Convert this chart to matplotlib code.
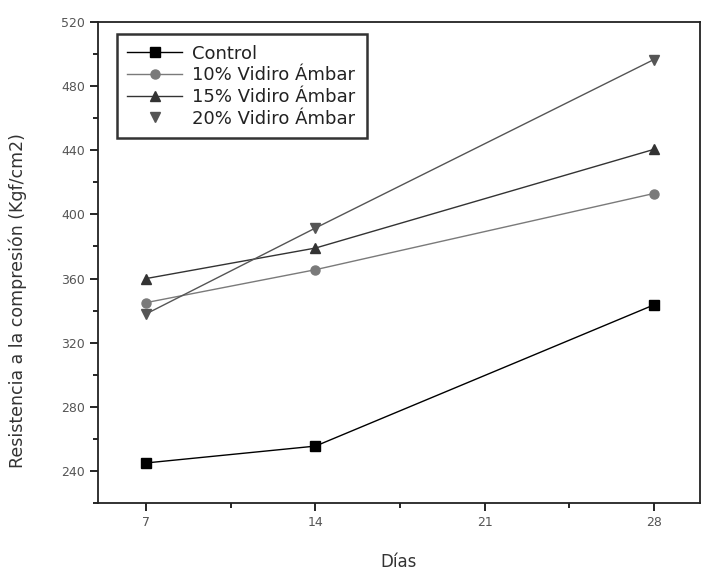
import matplotlib
matplotlib.use('Agg')
import matplotlib.pyplot as plt
from matplotlib.lines import Line2D
from matplotlib.ticker import MultipleLocator

# Data
dias = [7, 14, 28]
control = [245, 255.5, 343.5]
vidrio_10 = [345, 365.5, 413]
vidrio_15 = [360, 379, 440.5]
vidrio_20 = [338, 391.5, 496.5]

labels = ['Control', '10% Vidiro Ámbar', '15% Vidiro Ámbar', '20% Vidiro Ámbar']
series = [control, vidrio_10, vidrio_15, vidrio_20]
colors = ['#000000', '#7a7a7a', '#333333', '#555555']
markers = ['s', 'o', '^', 'v']

fig = plt.figure(figsize=(7.02, 5.70), dpi=100)
ax = fig.add_axes([0.1396, 0.1175, 0.857, 0.844])

for vals, c, m in zip(series, colors, markers):
    ax.plot(dias, vals, color=c, marker=m, markersize=6.5, linewidth=1.0)

ax.set_xlim(5, 29.9)
ax.set_ylim(220, 520)
ax.set_xticks([7, 14, 21, 28])
ax.xaxis.set_minor_locator(MultipleLocator(3.5))
ax.yaxis.set_major_locator(MultipleLocator(40))
ax.yaxis.set_minor_locator(MultipleLocator(20))
ax.set_yticks(range(240, 521, 40))
ax.tick_params(which='major', direction='out', length=6, width=1.2, labelsize=9,
               labelcolor='#555555', top=False, right=False)
ax.tick_params(which='minor', direction='out', length=3.5, width=1.2,
               top=False, right=False)
for s in ax.spines.values():
    s.set_linewidth(1.3)
    s.set_color('#222222')

ax.set_xlabel('Días', fontsize=12, color='#333333', labelpad=17)
ax.set_ylabel('Resistencia a la compresión (Kgf/cm2)', fontsize=12.5, color='#333333')
ax.yaxis.set_label_coords(-0.118, 0.42)

handles = [
    Line2D([], [], color=colors[0], marker='s', markersize=6.5, linewidth=1.0),
    Line2D([], [], color=colors[1], marker='o', markersize=6.5, linewidth=1.0),
    Line2D([], [], color=colors[2], marker='^', markersize=6.5, linewidth=1.0),
    Line2D([], [], color=colors[3], marker='v', markersize=6.5, linewidth=0),
]
leg = ax.legend(handles, labels, loc='upper left', bbox_to_anchor=(0.031, 0.975),
                fontsize=13, frameon=True, fancybox=False, edgecolor='black',
                borderpad=0.6, handlelength=3.0, handletextpad=0.6, labelspacing=0.2,
                borderaxespad=0)
leg.get_frame().set_linewidth(1.8)
for t in leg.get_texts():
    t.set_color('#222222')

fig.savefig('out.png', dpi=100)
